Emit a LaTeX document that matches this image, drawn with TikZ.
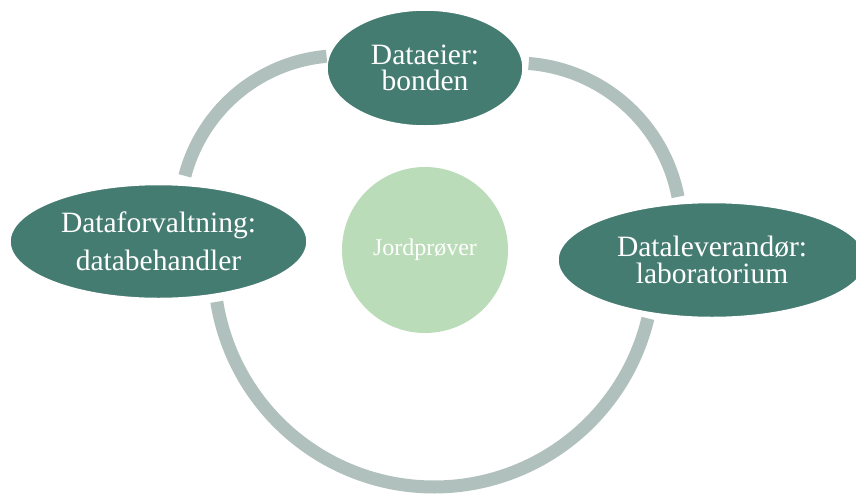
\documentclass[tikz,border=0pt]{standalone}
\usepackage{fontspec}
\setmainfont{Liberation Serif}
\usetikzlibrary{shapes.geometric}
\definecolor{nodeteal}{RGB}{69,124,114}
\definecolor{centergreen}{RGB}{187,220,184}
\definecolor{ringgray}{RGB}{176,192,188}
\begin{document}
\begin{tikzpicture}[x=1pt,y=-1pt,
  role/.style={ellipse, fill=nodeteal, draw=white, line width=1.5pt, text=white,
    align=center, inner sep=0pt, font=\fontsize{29.5}{26.5}\selectfont},
  ring/.style={draw=ringgray, line width=13pt, line cap=butt}]
\useasboundingbox (0,0) rectangle (856,493);
% ring arcs (image coordinates, y downwards)
\draw[ring] plot[domain=194.7:265, samples=60, smooth, variable=\t]
  ({340.6+161*cos(\t)},{216.7+161*sin(\t)});
\draw[ring] plot[domain=-85.6:-10.9, samples=60, smooth, variable=\t]
  ({516+165*cos(\t)},{228+165*sin(\t)});
\draw[ring] plot[domain=13.5:170.9, samples=100, smooth, variable=\t]
  ({434+220*cos(\t)},{267+220*sin(\t)});
% nodes
\node[role, minimum width=196pt, minimum height=116pt] (owner) at (425,68) {Dataeier:\\bonden};
\node[role, minimum width=297pt, minimum height=114pt] (manager) at (158.5,241.5) {Dataforvaltning:\\[10pt]databehandler};
\node[role, minimum width=308pt, minimum height=115pt] (supplier) at (712,260) {Dataleverandør:\\laboratorium};
\node[circle, fill=centergreen, minimum size=166pt, inner sep=0pt, text=white,
  font=\fontsize{24}{28}\selectfont] (samples) at (425,250) {Jordprøver};
\end{tikzpicture}
\end{document}
